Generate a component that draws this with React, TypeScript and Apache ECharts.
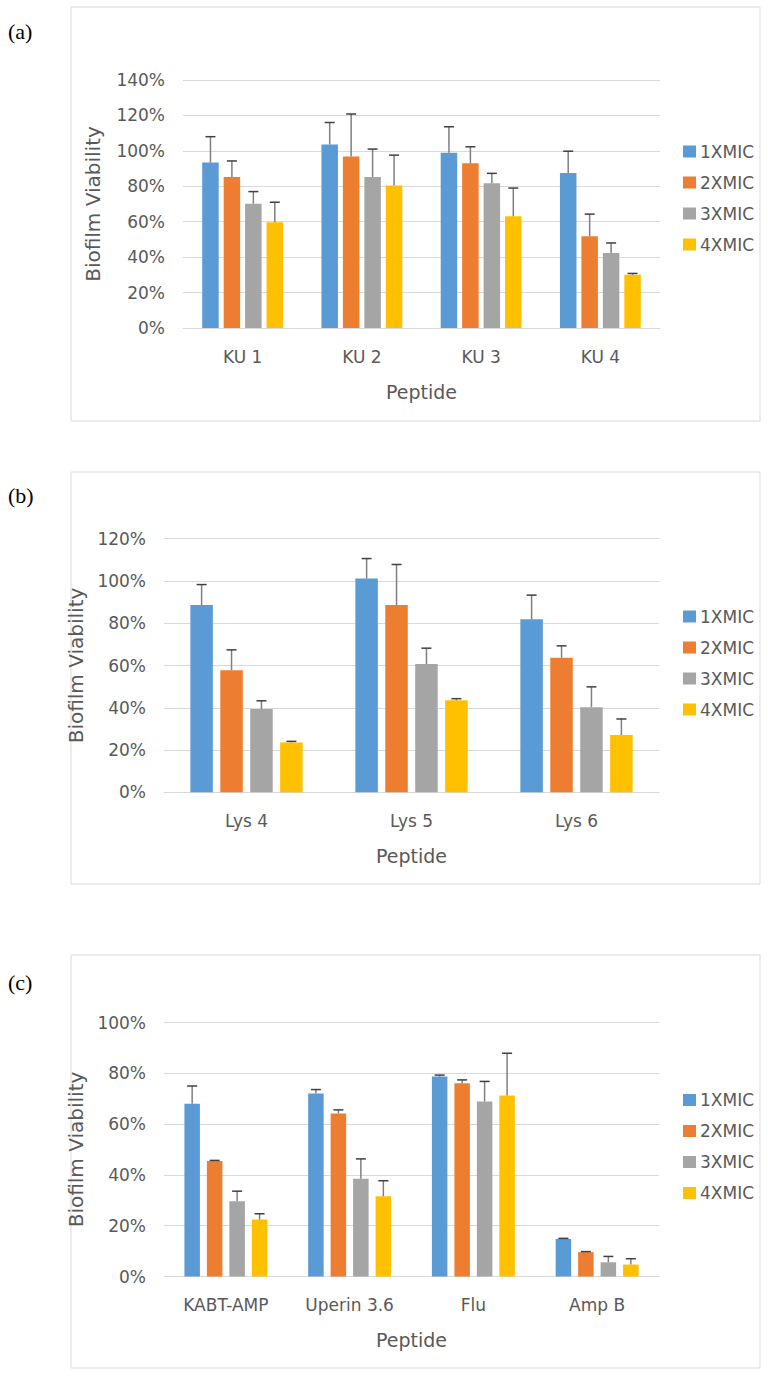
import { useEffect, useRef } from 'react';
import * as echarts from 'echarts';

const seriesNames = ['1XMIC', '2XMIC', '3XMIC', '4XMIC'];
const seriesColors = ['#5B9BD5', '#ED7D31', '#A5A5A5', '#FFC000'];

// Panel (a)
const categoriesA = ['KU 1', 'KU 2', 'KU 3', 'KU 4'];
const meansA = [
  [93.4, 103.6, 99, 87.5],
  [85.3, 96.8, 93, 51.8],
  [70.2, 85.3, 81.7, 42.4],
  [59.7, 80.5, 63.1, 30],
];
const errorsA = [
  [14.6, 12.4, 14.6, 12.3],
  [9, 24, 9.3, 12.5],
  [6.8, 15.7, 5.6, 5.6],
  [11.3, 17.1, 15.9, 0.8],
];

// Panel (b)
const categoriesB = ['Lys 4', 'Lys 5', 'Lys 6'];
const meansB = [
  [88.6, 101.2, 81.9],
  [57.8, 88.6, 63.7],
  [39.4, 60.7, 40.3],
  [23.6, 43.6, 27.1],
];
const errorsB = [
  [9.7, 9.4, 11.4],
  [9.6, 19.2, 5.6],
  [3.9, 7.5, 9.6],
  [0.5, 0.7, 7.6],
];

// Panel (c)
const categoriesC = ['KABT-AMP', 'Uperin 3.6', 'Flu', 'Amp B'];
const meansC = [
  [68, 72, 78.7, 14.8],
  [45.5, 64.2, 76.1, 9.6],
  [29.6, 38.5, 68.9, 5.6],
  [22.4, 31.6, 71.3, 4.7],
];
const errorsC = [
  [7, 1.6, 0.6, 0.2],
  [0.2, 1.4, 1.3, 0.2],
  [4, 7.8, 7.9, 2.3],
  [2.3, 6.1, 16.6, 2.3],
];

const TEXT = '#595959';
const GRID_LINE = '#D9D9D9';
const FONT = 'DejaVu Sans';

const panels = [
  {
    cats: categoriesA, means: meansA, errs: errorsA, max: 140,
    grid: { left: 183, top: 80, width: 477, height: 248 },
    barWidth: 16.5, barGap: 0.3, legendTop: 138, label: '(a)', labelY: 31,
    frame: { x: 71, y: 7, width: 689, height: 414 }, yNameGap: 80,
  },
  {
    cats: categoriesB, means: meansB, errs: errorsB, max: 120,
    grid: { left: 164, top: 538.7, width: 495, height: 253.6 },
    barWidth: 22.5, barGap: 0.33, legendTop: 603, label: '(b)', labelY: 495,
    frame: { x: 71, y: 472, width: 689, height: 412 }, yNameGap: 66,
  },
  {
    cats: categoriesC, means: meansC, errs: errorsC, max: 100,
    grid: { left: 164, top: 1022.5, width: 495, height: 254 },
    barWidth: 15.5, barGap: 0.45, legendTop: 1086.5, label: '(c)', labelY: 982,
    frame: { x: 71, y: 955, width: 689, height: 413 }, yNameGap: 66,
  },
];

export default function App() {
  const ref = useRef<HTMLDivElement>(null);
  useEffect(() => {
    document.body.style.margin = '0';
    if (!ref.current) return;
    const chart = echarts.init(ref.current, undefined, { renderer: 'svg' });

    const grids: any[] = [];
    const xAxes: any[] = [];
    const yAxes: any[] = [];
    const legends: any[] = [];
    const series: any[] = [];
    const graphics: any[] = [];

    panels.forEach((p, pi) => {
      graphics.push({
        type: 'rect',
        shape: p.frame,
        style: { fill: 'none', stroke: GRID_LINE, lineWidth: 1 },
        z: 0,
      });
      graphics.push({
        type: 'text',
        x: 8,
        y: p.labelY,
        style: {
          text: p.label,
          fontFamily: 'Liberation Serif',
          fontSize: 22,
          fill: '#000',
          verticalAlign: 'middle',
        },
      });
      grids.push({ ...p.grid, containLabel: false });
      xAxes.push({
        type: 'category',
        gridIndex: pi,
        data: p.cats,
        axisLine: { lineStyle: { color: GRID_LINE, width: 1 } },
        axisTick: { show: false },
        axisLabel: { color: TEXT, fontSize: 17, margin: 20, fontFamily: FONT },
        name: 'Peptide',
        nameLocation: 'middle',
        nameGap: 54,
        nameTextStyle: { color: TEXT, fontSize: 19, fontFamily: FONT },
      });
      yAxes.push({
        type: 'value',
        gridIndex: pi,
        min: 0,
        max: p.max,
        interval: 20,
        axisLine: { show: false },
        axisTick: { show: false },
        axisLabel: { color: TEXT, fontSize: 17, margin: 18, fontFamily: FONT, formatter: '{value}%' },
        splitLine: { lineStyle: { color: GRID_LINE, width: 1 } },
        name: 'Biofilm Viability',
        nameLocation: 'middle',
        nameGap: p.yNameGap,
        nameTextStyle: { color: TEXT, fontSize: 20, fontFamily: FONT },
      });
      legends.push({
        data: seriesNames,
        orient: 'vertical',
        left: 678,
        top: p.legendTop,
        itemWidth: 13,
        itemHeight: 12,
        itemGap: 14,
        icon: 'rect',
        textStyle: { color: TEXT, fontSize: 17, fontFamily: FONT, padding: [0, 0, 0, -1] },
      });

      const w = p.barWidth;
      const g = p.barGap * w;
      const total = 4 * w + 3 * g;
      seriesNames.forEach((name, si) => {
        series.push({
          type: 'bar',
          name,
          xAxisIndex: pi,
          yAxisIndex: pi,
          data: p.means[si],
          barWidth: w,
          barGap: `${p.barGap * 100}%`,
          itemStyle: { color: seriesColors[si] },
          z: 2,
        });
      });
      seriesNames.forEach((name, si) => {
        const offset = -total / 2 + si * (w + g) + w / 2;
        series.push({
          type: 'custom',
          name: `err-${pi}-${si}`,
          xAxisIndex: pi,
          yAxisIndex: pi,
          data: p.cats.map((_, j) => [j, p.means[si][j], p.errs[si][j]]),
          encode: { x: 0, y: 1 },
          z: 5,
          silent: true,
          renderItem: (params: any, api: any) => {
            const ci = api.value(0);
            const v = api.value(1);
            const e = api.value(2);
            const base = api.coord([ci, v]);
            const top = api.coord([ci, v + e]);
            const x = base[0] + offset;
            return {
              type: 'group',
              children: [
                {
                  type: 'line',
                  shape: { x1: x, y1: base[1], x2: x, y2: top[1] },
                  style: { stroke: '#7F7F7F', lineWidth: 1.5 },
                },
                {
                  type: 'line',
                  shape: { x1: x - 5, y1: top[1], x2: x + 5, y2: top[1] },
                  style: { stroke: '#404040', lineWidth: 1.5 },
                },
              ],
            };
          },
        });
      });
    });

    chart.setOption({
      animation: false,
      backgroundColor: '#fff',
      textStyle: { fontFamily: FONT },
      grid: grids,
      xAxis: xAxes,
      yAxis: yAxes,
      legend: legends,
      series,
      graphic: graphics,
    });

    return () => chart.dispose();
  }, []);

  return <div ref={ref} style={{ width: 768, height: 1376 }} />;
}
